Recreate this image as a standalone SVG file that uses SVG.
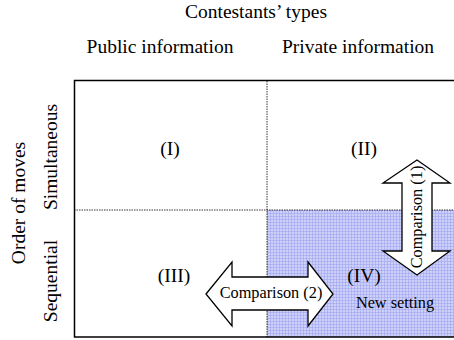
<svg xmlns="http://www.w3.org/2000/svg" width="454" height="340" viewBox="0 0 454 340">
<style>
text{font-family:"Liberation Serif","Times New Roman",serif;fill:#000}
.t14{font-size:19.5px}
.t12{font-size:16.3px}
.arrow{fill:#fff;stroke:#000;stroke-width:1.3}
.dash{stroke:#000;stroke-width:0.8;stroke-dasharray:1.5 1}
</style>
<defs>
<pattern id="grid" width="3" height="3" patternUnits="userSpaceOnUse">
<rect width="3" height="3" fill="#cdd1fa"/>
<path d="M0 0.5H3M0.5 0V3" stroke="#9fa6ee" stroke-width="0.6"/>
</pattern>
</defs>
<g id="header">
<text class="t14" x="256" y="18" text-anchor="middle">Contestants’ types</text>
<text class="t14" x="160" y="53" text-anchor="middle">Public information</text>
<text class="t14" x="358" y="53" text-anchor="middle">Private information</text>
</g>
<g id="side">
<text class="t14" transform="translate(25,203) rotate(-90)" text-anchor="middle">Order of moves</text>
<text class="t14" transform="translate(57,157) rotate(-90)" text-anchor="middle">Simultaneous</text>
<text class="t14" transform="translate(57,281) rotate(-90)" text-anchor="middle">Sequential</text>
</g>
<g id="cell-IV">
<rect x="267" y="210" width="187" height="127" fill="url(#grid)"/>
</g>
<g id="frame">
<path d="M454 80.5H74.5V337H454" fill="none" stroke="#000" stroke-width="1.5"/>
<line class="dash" x1="267" y1="81" x2="267" y2="337"/>
<line class="dash" x1="74" y1="210" x2="454" y2="210"/>
</g>
<g id="cell-I"><text class="t14" x="170" y="155" text-anchor="middle">(I)</text></g>
<g id="cell-II"><text class="t14" x="364" y="155" text-anchor="middle">(II)</text></g>
<g id="cell-III"><text class="t14" x="174" y="282" text-anchor="middle">(III)</text></g>
<g id="cell-IV-label">
<text class="t14" x="364" y="282" text-anchor="middle">(IV)</text>
<text class="t12" x="395" y="308" text-anchor="middle">New setting</text>
</g>
<g id="connectors">
<g id="comparison-2">
<path class="arrow" d="M206 294L232 262V277H308V262L333 294L308 326V310H232V326Z"/>
<text class="t12" x="271" y="298" text-anchor="middle">Comparison (2)</text>
</g>
<g id="comparison-1">
<path class="arrow" d="M417 160L450 183H432V251H450L417 275L383 251H402V183H383Z"/>
<text class="t12" transform="translate(422,217) rotate(-90)" text-anchor="middle">Comparison (1)</text>
</g>
</g>
</svg>
